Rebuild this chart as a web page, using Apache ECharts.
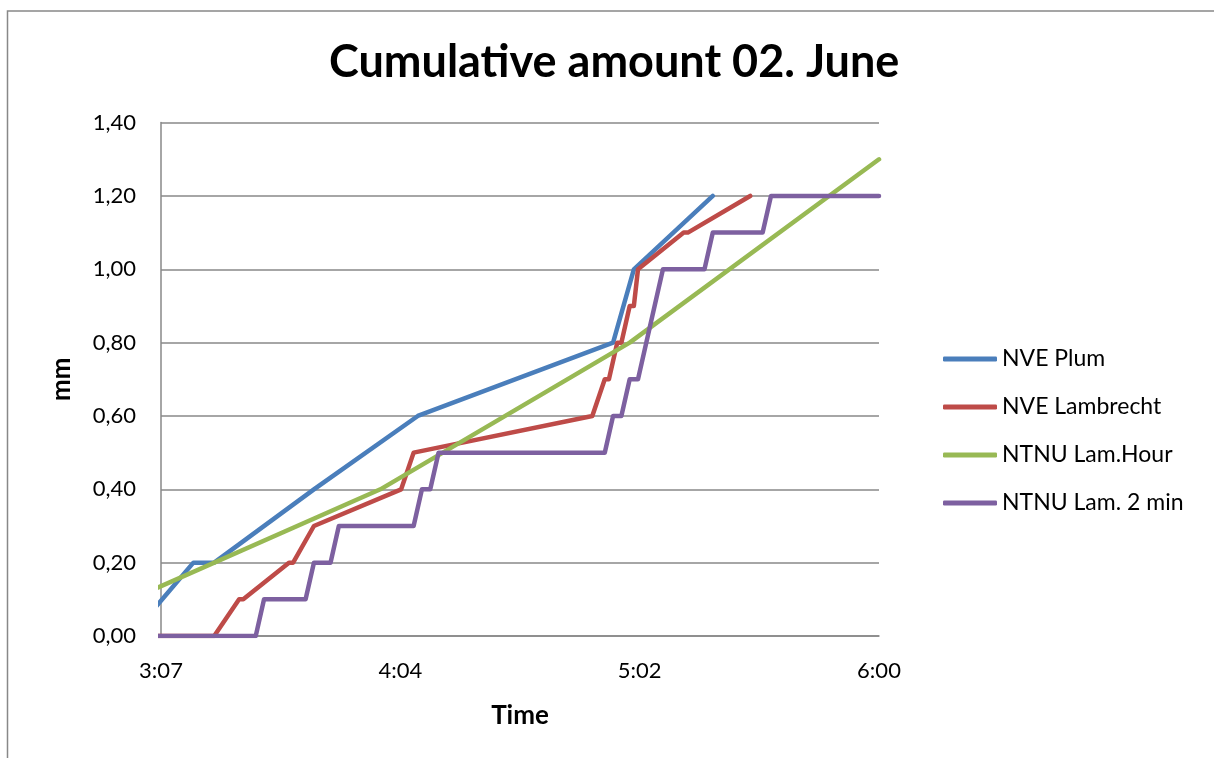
<!DOCTYPE html>
<html>
<head>
<meta charset="utf-8">
<style>
html,body{margin:0;padding:0;background:#fff;}
#chart{width:1214px;height:758px;}
</style>
<script src="https://cdn.jsdelivr.net/npm/echarts@6/dist/echarts.min.js"></script>
</head>
<body>
<div id="chart"></div>
<script>
// ---- data ----
const tickLabels = ['3:07', '4:04', '5:02', '6:00'];

const plumTimes = ['3:00','3:15','3:20','3:44','4:09','4:56','5:01','5:20'];
const plumValues = [0, 0.2, 0.2, 0.4, 0.6, 0.8, 1.0, 1.2];

const lambTimes = ['3:00','3:20','3:26','3:27','3:38','3:39','3:44','4:05','4:08','4:51','4:54','4:55','4:57','4:58','5:00','5:01','5:02','5:13','5:14','5:29'];
const lambValues = [0, 0, 0.1, 0.1, 0.2, 0.2, 0.3, 0.4, 0.5, 0.6, 0.7, 0.7, 0.8, 0.8, 0.9, 0.9, 1.0, 1.1, 1.1, 1.2];

const hourTimes = ['3:00','4:00','5:00','6:00'];
const hourValues = [0.10, 0.40, 0.80, 1.30];

const min2Times = ['3:00','3:30','3:32','3:42','3:44','3:48','3:50','4:08','4:10','4:12','4:14','4:54','4:56','4:58','5:00','5:02','5:08','5:18','5:20','5:32','5:34','6:00'];
const min2Values = [0, 0, 0.1, 0.1, 0.2, 0.2, 0.3, 0.3, 0.4, 0.4, 0.5, 0.5, 0.6, 0.6, 0.7, 0.7, 1.0, 1.0, 1.1, 1.1, 1.2, 1.2];

// axis: 0.13 day (3:07.2) to 0.25 day (6:00), major unit 0.04 day (57.6 min)
const AXIS_START_MIN = 0.13 * 1440;
const AXIS_STEP_MIN = 0.04 * 1440;
const AXIS_SPAN_MIN = 0.12 * 1440;

function toOffset(t) {
  const p = t.split(':');
  return (+p[0]) * 60 + (+p[1]) - AXIS_START_MIN;
}
function pairs(times, values) {
  return times.map((t, i) => [toOffset(t), values[i]]);
}

const colors = ['#4A7EBB', '#BE4B48', '#98B954', '#7D60A0'];
const names = ['NVE Plum', 'NVE Lambrecht', 'NTNU Lam.Hour', 'NTNU Lam. 2 min'];
const datasets = [pairs(plumTimes, plumValues), pairs(lambTimes, lambValues), pairs(hourTimes, hourValues), pairs(min2Times, min2Values)];

const FONT = 'Lato, "Open Sans", sans-serif';
const chart = echarts.init(document.getElementById('chart'), null, {renderer: 'canvas'});
chart.setOption({
  animation: false,
  backgroundColor: '#ffffff',
  title: {
    text: 'Cumulative amount 02. June',
    left: 324,
    top: 35,
    textStyle: {fontFamily: FONT, fontWeight: 'bold', fontSize: 45, color: '#000'}
  },
  graphic: [{
    type: 'rect', silent: true,
    shape: {x: 7.5, y: 11, width: 1300, height: 900},
    style: {fill: 'none', stroke: '#888888', lineWidth: 1.5}
  }],
  legend: {
    orient: 'vertical',
    left: 943,
    top: 347,
    padding: 0,
    itemWidth: 54,
    itemHeight: 5,
    itemGap: 24,
    icon: 'roundRect',
    data: names,
    textStyle: {fontFamily: FONT, fontSize: 23, color: '#000', lineHeight: 24}
  },
  grid: {left: 161, right: 335, top: 122.6, bottom: 122, containLabel: false, outerBoundsMode: 'none'},
  xAxis: {
    type: 'value',
    min: 0,
    max: AXIS_SPAN_MIN,
    interval: AXIS_STEP_MIN,
    name: 'Time',
    nameLocation: 'middle',
    nameGap: 67,
    nameTextStyle: {fontFamily: FONT, fontWeight: 'bold', fontSize: 26, color: '#000'},
    axisLine: {show: true, onZero: false, lineStyle: {color: '#888888', width: 1.5}},
    axisTick: {show: false},
    splitLine: {show: false},
    axisLabel: {
      fontFamily: FONT, fontSize: 22, color: '#000', margin: 24,
      formatter: v => tickLabels[Math.round(v / AXIS_STEP_MIN)] || ''
    }
  },
  yAxis: {
    type: 'value',
    min: 0,
    max: 1.4,
    interval: 0.2,
    name: 'mm',
    nameLocation: 'middle',
    nameGap: 86,
    nameTextStyle: {fontFamily: FONT, fontWeight: 'bold', fontSize: 26, color: '#000'},
    axisLine: {show: true, lineStyle: {color: '#888888', width: 1.5}},
    axisTick: {show: false},
    splitLine: {show: true, lineStyle: {color: '#888888', width: 1.5}},
    axisLabel: {
      fontFamily: FONT, fontSize: 22, color: '#000', margin: 25,
      formatter: v => v.toFixed(2).replace('.', ',')
    }
  },
  series: names.map((n, i) => ({
    name: n,
    type: 'line',
    data: datasets[i],
    showSymbol: false,
    symbol: 'none',
    clip: true,
    color: colors[i],
    lineStyle: {width: 4.5, color: colors[i], cap: 'round', join: 'round'}
  }))
});
</script>
</body>
</html>
